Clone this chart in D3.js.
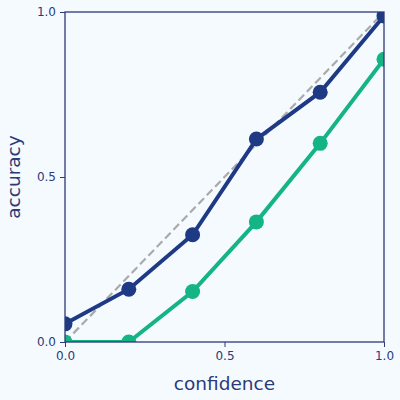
<!DOCTYPE html>
<html>
<head>
<meta charset="utf-8">
<script src="https://cdn.jsdelivr.net/npm/d3@7"></script>
<style>
  html, body { margin: 0; padding: 0; background: #f5faff; }
  .axis text { font-family: 'DejaVu Sans', sans-serif; font-size: 12px; fill: #2b3a78; }
  .axis path, .axis line { stroke: #2b3a78; }
</style>
</head>
<body>
<div id="chart"></div>
<script>
const confidence = [0.0, 0.2, 0.4, 0.6, 0.8, 1.0];
const accuracyBlue = [0.055, 0.16, 0.325, 0.615, 0.757, 0.988];
const accuracyGreen = [0.0, 0.0, 0.153, 0.364, 0.602, 0.857];
const ticks = [0.0, 0.5, 1.0];

const W = 400, H = 400;
const margin = {top: 12, right: 16, bottom: 58, left: 65};
const width = W - margin.left - margin.right;
const height = H - margin.top - margin.bottom;

const x = d3.scaleLinear().domain([0, 1]).range([0, width]);
const y = d3.scaleLinear().domain([0, 1]).range([height, 0]);

const svg = d3.select('#chart').append('svg')
  .attr('width', W)
  .attr('height', H)
  .style('background', '#f5faff');

const g = svg.append('g')
  .attr('transform', `translate(${margin.left},${margin.top})`);

g.append('clipPath').attr('id', 'clip')
  .append('rect').attr('width', width).attr('height', height);

const plot = g.append('g').attr('clip-path', 'url(#clip)');

// diagonal reference
plot.append('path')
  .datum([0, 1])
  .attr('d', d3.line().x(d => x(d)).y(d => y(d)))
  .style('fill', 'none')
  .style('stroke', '#aaaaaa')
  .style('stroke-width', 2.2)
  .style('stroke-dasharray', '8,4');

const series = [
  {values: accuracyBlue, color: '#1f3a85'},
  {values: accuracyGreen, color: '#14b486'},
];

const line = d3.line()
  .x((d, i) => x(confidence[i]))
  .y(d => y(d));

series.forEach(s => {
  plot.append('path')
    .datum(s.values)
    .attr('d', line)
    .style('fill', 'none')
    .style('stroke', s.color)
    .style('stroke-width', 4);
  plot.selectAll(null)
    .data(s.values)
    .enter().append('circle')
    .attr('cx', (d, i) => x(confidence[i]))
    .attr('cy', d => y(d))
    .attr('r', 7.5)
    .style('fill', s.color);
});

// spines
g.append('rect')
  .attr('width', width)
  .attr('height', height)
  .style('fill', 'none')
  .style('stroke', '#2b3a78')
  .style('stroke-width', 1.3);

g.append('g')
  .attr('class', 'axis')
  .attr('transform', `translate(0,${height})`)
  .call(d3.axisBottom(x).tickValues(ticks).tickFormat(d3.format('.1f')).tickSizeInner(5).tickSizeOuter(0).tickPadding(4))
  .call(a => a.select('.domain').remove());

g.append('g')
  .attr('class', 'axis')
  .call(d3.axisLeft(y).tickValues(ticks).tickFormat(d3.format('.1f')).tickSizeInner(5).tickSizeOuter(0).tickPadding(4))
  .call(a => a.select('.domain').remove());

g.append('text')
  .attr('x', width / 2)
  .attr('y', height + 48)
  .style('text-anchor', 'middle')
  .style('font-family', "'DejaVu Sans', sans-serif")
  .style('font-size', '18.5px')
  .style('fill', '#2b3a78')
  .text('confidence');

g.append('text')
  .attr('transform', `translate(-45,${height / 2}) rotate(-90)`)
  .style('text-anchor', 'middle')
  .style('font-family', "'DejaVu Sans', sans-serif")
  .style('font-size', '18.5px')
  .style('fill', '#2b3a78')
  .text('accuracy');
</script>
</body>
</html>
